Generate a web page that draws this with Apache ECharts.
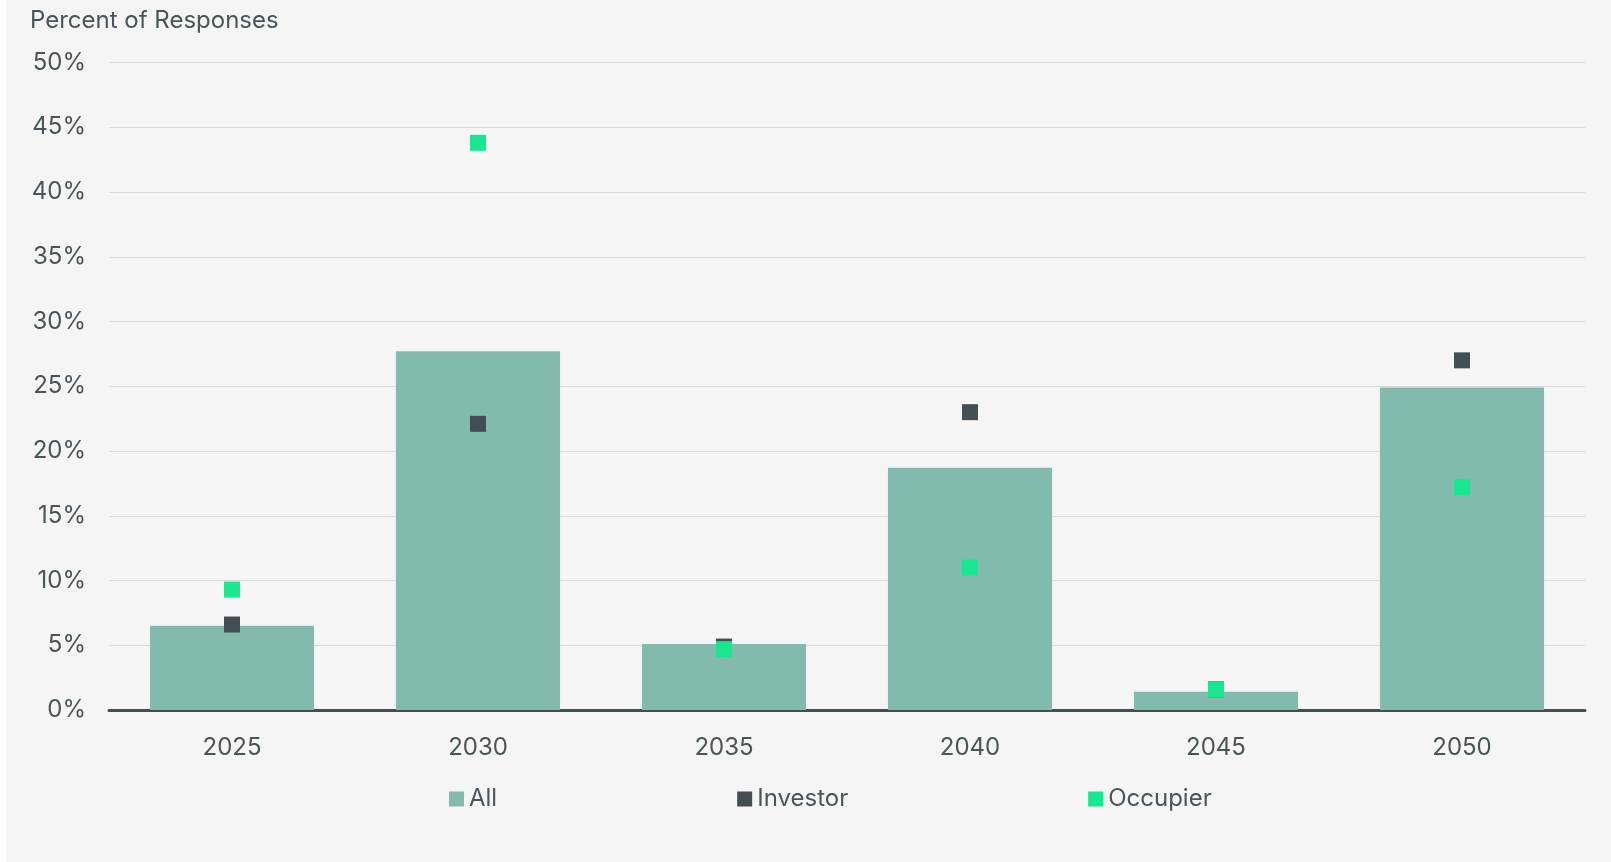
<!DOCTYPE html>
<html>
<head>
<meta charset="utf-8">
<script src="https://cdn.jsdelivr.net/npm/echarts@6/dist/echarts.min.js"></script>
<style>
  html, body { margin: 0; padding: 0; background: #ffffff; }
  #chart { position: absolute; left: 6px; top: 0; width: 1605px; height: 862px; }
</style>
</head>
<body>
<div id="chart"></div>
<script>
// values
const years = ["2025", "2030", "2035", "2040", "2045", "2050"];
const allValues = [6.5, 27.7, 5.1, 18.7, 1.4, 24.9];
const investorValues = [6.6, 22.1, 4.9, 23.0, 1.6, 27.0];
const occupierValues = [9.3, 43.8, 4.7, 11.0, 1.6, 17.2];

const textColor = "#48565b";
const font = "Inter";

const chart = echarts.init(document.getElementById("chart"), null, { renderer: "canvas" });

chart.setOption({
  backgroundColor: "#f5f5f5",
  animation: false,
  title: {
    text: "Percent of Responses",
    left: 19,
    top: 4,
    textStyle: {
      color: textColor,
      fontFamily: font,
      fontSize: 24,
      fontWeight: "normal",
    },
  },
  legend: {
    left: 438,
    top: 782,
    itemWidth: 15,
    itemHeight: 15,
    itemGap: 240,
    icon: "rect",
    textStyle: {
      color: textColor,
      fontFamily: font,
      fontSize: 24,
    },
    data: ["All", "Investor", "Occupier"],
  },
  grid: {
    left: 103,
    right: 26,
    top: 62.5,
    bottom: 152,
  },
  xAxis: {
    type: "category",
    data: years,
    axisTick: { show: false },
    axisLine: {
      show: true,
      lineStyle: { color: "#414f55", width: 3 },
    },
    axisLabel: {
      color: textColor,
      fontFamily: font,
      fontSize: 24,
      margin: 26,
    },
  },
  yAxis: {
    type: "value",
    min: 0,
    max: 50,
    interval: 5,
    axisLine: { show: false },
    axisTick: { show: false },
    axisLabel: {
      color: textColor,
      fontFamily: font,
      fontSize: 24,
      margin: 23,
      formatter: (v) => v + "%",
    },
    splitLine: {
      show: true,
      lineStyle: { color: "#d6dadb", width: 1 },
    },
  },
  series: [
    {
      name: "All",
      type: "bar",
      data: allValues,
      barWidth: "66.7%",
      itemStyle: { color: "#82bbad" },
    },
    {
      name: "Investor",
      type: "scatter",
      data: investorValues,
      symbol: "rect",
      symbolSize: 16,
      itemStyle: { color: "#414f55", opacity: 1 },
    },
    {
      name: "Occupier",
      type: "scatter",
      data: occupierValues,
      symbol: "rect",
      symbolSize: 16,
      itemStyle: { color: "#17e88f", opacity: 1 },
    },
  ],
});
</script>
</body>
</html>
